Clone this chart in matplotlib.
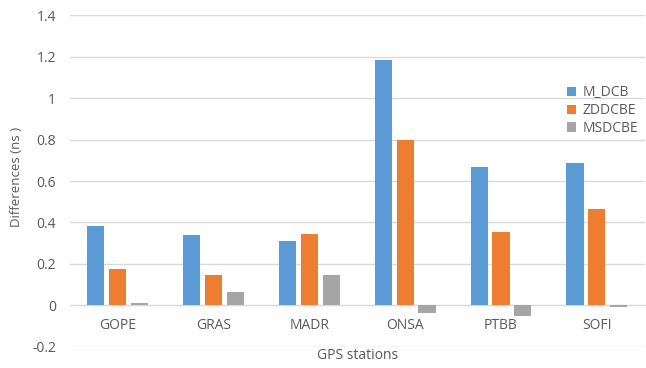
import matplotlib.pyplot as plt
import numpy as np

plt.rcParams['font.family'] = ['Open Sans', 'DejaVu Sans']

# Data
stations = ['GOPE', 'GRAS', 'MADR', 'ONSA', 'PTBB', 'SOFI']
m_dcb = [0.382, 0.338, 0.309, 1.187, 0.667, 0.688]
zddcbe = [0.177, 0.145, 0.346, 0.800, 0.356, 0.465]
msdcbe = [0.011, 0.063, 0.145, -0.035, -0.053, -0.010]

series = [('M_DCB', m_dcb, '#5B9BD5'),
          ('ZDDCBE', zddcbe, '#ED7D31'),
          ('MSDCBE', msdcbe, '#A5A5A5')]

text_col = '#595959'
grid_col = '#D9D9D9'

fig = plt.figure(figsize=(6.46, 3.68), dpi=100)
ax = fig.add_axes([0.108, 0.058, 0.890, 0.900])

x = np.arange(len(stations))
width = 0.18
step = 0.228
for i, (name, vals, col) in enumerate(series):
    ax.bar(x + (i - 1) * step, vals, width, color=col, label=name, zorder=3)

ax.set_xlim(-0.5, len(stations) - 0.5)
ax.set_ylim(-0.2, 1.4)
yt = np.arange(-0.2, 1.41, 0.2)
ax.set_yticks(yt)
ax.set_yticklabels(['%g' % round(v, 1) for v in yt])
ax.yaxis.grid(True, color=grid_col, linewidth=1, zorder=0)
ax.set_axisbelow(True)

for s in ['top', 'right', 'left']:
    ax.spines[s].set_visible(False)
ax.spines['bottom'].set_position(('data', 0))
ax.spines['bottom'].set_color(grid_col)
ax.spines['bottom'].set_zorder(1)

ax.set_xticks(x)
ax.set_xticklabels(stations)
ax.tick_params(axis='x', length=0, pad=9, labelsize=10, labelcolor=text_col)
ax.tick_params(axis='y', length=0, pad=10, labelsize=10, labelcolor=text_col)

fig.text(0.025, 0.52, 'Differences (ns )', rotation=90, ha='center', va='center',
         fontsize=9.5, color=text_col)
fig.text(0.554, 0.033, 'GPS stations', ha='center', va='center',
         fontsize=10, color=text_col)

leg = fig.legend(loc='upper left', bbox_to_anchor=(0.878, 0.768), frameon=False,
                 fontsize=10, handlelength=0.65, handleheight=0.65, handletextpad=0.45,
                 labelspacing=0.2, borderaxespad=0, borderpad=0)
for t in leg.get_texts():
    t.set_color(text_col)

fig.savefig('out.png', dpi=100)
